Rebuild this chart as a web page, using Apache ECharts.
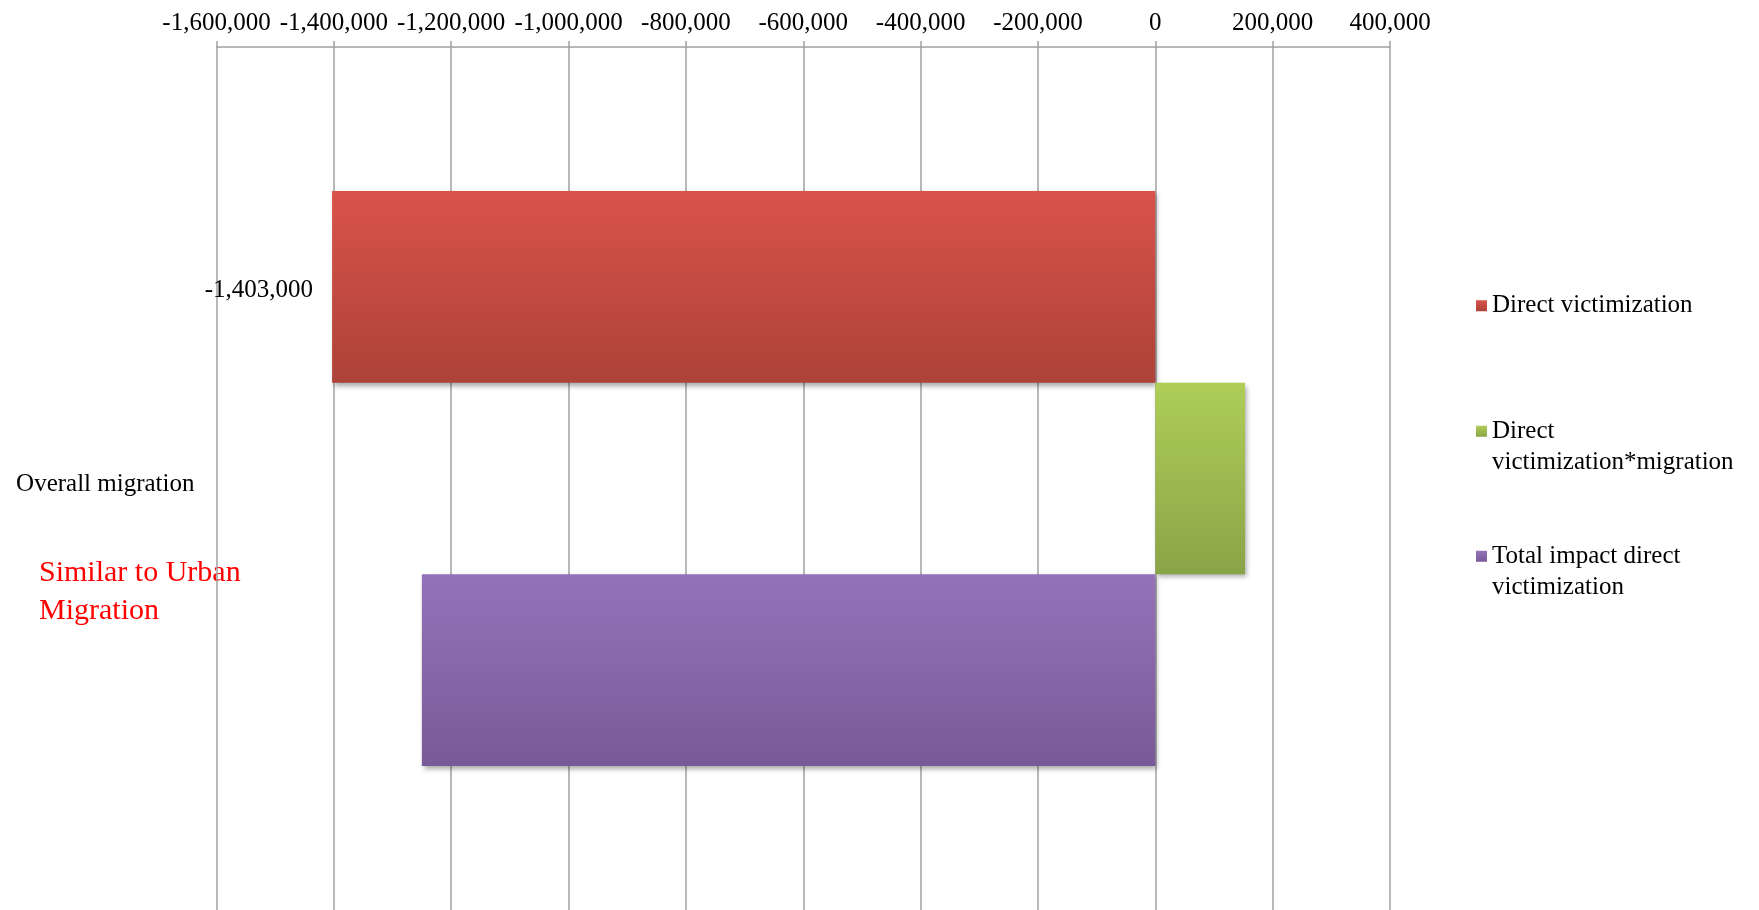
<!DOCTYPE html>
<html>
<head>
<meta charset="utf-8">
<script src="https://cdn.jsdelivr.net/npm/echarts@6/dist/echarts.min.js"></script>
<style>
html,body{margin:0;padding:0;background:#fff;}
#chart{width:1759px;height:910px;}
</style>
</head>
<body>
<div id="chart"></div>
<script>
// ---- data ----
const categories = ['Overall migration'];
const seriesNames = ['Direct victimization', 'Direct victimization*migration', 'Total impact direct victimization'];
const directVictimization = [-1403000];
const directVictimizationMigration = [153000];
const totalImpact = [-1250000];
const legendLines = [['Direct victimization'], ['Direct', 'victimization*migration'], ['Total impact direct', 'victimization']];
const xMin = -1600000, xMax = 400000, xStep = 200000;
const annotation = ['Similar to Urban', 'Migration'];

const FONT = 'Liberation Serif';
const fmt = v => Number(v).toLocaleString('en-US');
const grad = (a, b) => new echarts.graphic.LinearGradient(0, 0, 0, 1, [{offset: 0, color: a}, {offset: 1, color: b}]);
const colors = [grad('#D9534A', '#AD4238'), grad('#AECE58', '#89A447'), grad('#9472B9', '#795A98')];
const shadow = {shadowColor: 'rgba(0,0,0,0.35)', shadowBlur: 5, shadowOffsetX: 2, shadowOffsetY: 3};
const values = [directVictimization, directVictimizationMigration, totalImpact];

// multi-line legend entries: a blank line above keeps the icon level with the first text line
const legendText = lines => lines.length > 1 ? ' \n' + lines.join('\n') : lines[0];
const legendTops = [290, 384, 509];
const legends = seriesNames.map((n, i) => ({
  left: 1476, top: legendTops[i], orient: 'vertical', padding: 0,
  itemWidth: 11, itemHeight: 11, icon: 'rect', selectedMode: false,
  data: [n],
  formatter: () => legendText(legendLines[i]),
  textStyle: {fontFamily: FONT, fontSize: 25, color: '#000', lineHeight: 31.5}
}));

const chart = echarts.init(document.getElementById('chart'));
chart.setOption({
  animation: false,
  backgroundColor: '#fff',
  grid: {left: 216.5, right: 369, top: 47, height: 878, containLabel: false},
  xAxis: {
    type: 'value', position: 'top', min: xMin, max: xMax, interval: xStep,
    axisLine: {show: true, lineStyle: {color: '#A0A0A0', width: 1.5}},
    axisTick: {show: true, length: 6, lineStyle: {color: '#A0A0A0', width: 1.5}},
    splitLine: {show: true, lineStyle: {color: '#A0A0A0', width: 1.5}},
    axisLabel: {fontFamily: FONT, fontSize: 25, color: '#000', margin: 11, formatter: fmt}
  },
  yAxis: {
    type: 'category', data: categories, inverse: true,
    axisLine: {show: false, onZero: false}, axisTick: {show: false},
    axisLabel: {fontFamily: FONT, fontSize: 25, color: '#000', margin: 22, verticalAlign: 'top', lineHeight: 12}
  },
  legend: legends,
  graphic: [{
    type: 'text', left: 39, top: 554, z: 0,
    style: {text: annotation.join('\n'), font: '30px "Liberation Serif"', fill: '#FF0000', lineHeight: 38}
  }],
  series: seriesNames.map((n, i) => ({
    name: n, type: 'bar', data: values[i],
    barCategoryGap: '33.4%', barGap: '0%',
    itemStyle: Object.assign({color: colors[i]}, shadow),
    label: i === 0 ? {show: true, position: 'left', distance: 19, offset: [0, 4], fontFamily: FONT, fontSize: 25, color: '#000', formatter: p => fmt(p.value)} : {show: false}
  }))
});
</script>
</body>
</html>
